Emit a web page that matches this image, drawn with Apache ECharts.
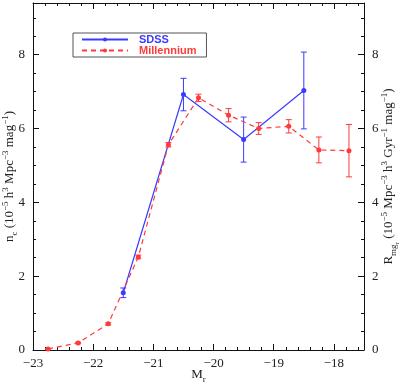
<!DOCTYPE html>
<html><head><meta charset="utf-8">
<script src="https://cdn.jsdelivr.net/npm/echarts@6/dist/echarts.min.js"></script>
<style>html,body{margin:0;padding:0;background:#fff}#c{width:400px;height:383px}</style>
</head><body><div id="c"></div>
<script>
// ---- data ----
const sdssX = [-21.5, -20.5, -19.5, -18.5];
const sdssY = [1.55, 6.92, 5.70, 7.03];
const sdssErr = [0.13, 0.44, 0.61, 1.04];
const milX = [-22.75, -22.25, -21.75, -21.25, -20.75, -20.25, -19.75, -19.25, -18.75, -18.25, -17.75];
const milY = [0.03, 0.19, 0.71, 2.52, 5.56, 6.83, 6.36, 6.00, 6.06, 5.42, 5.40];
const milErr = [0.01, 0.02, 0.03, 0.05, 0.06, 0.10, 0.18, 0.16, 0.18, 0.35, 0.71];
const xTicks = [-23, -22, -21, -20, -19, -18];
const yTicks = [0, 2, 4, 6, 8];

const BLUE = '#3b3bff', RED = '#ff3a3a', AX = '#111';
const FONT = 'Liberation Serif';
const xMin = -23, xMax = -17.5, yMin = 0, yMax = 9.4;

const rich = {
  n: {fontSize: 13, fontFamily: FONT, color: '#222', lineHeight: 18, verticalAlign: 'middle'},
  sup: {fontSize: 9, fontFamily: FONT, color: '#222', lineHeight: 18, verticalAlign: 'top'},
  sub: {fontSize: 9, fontFamily: FONT, color: '#222', lineHeight: 18, verticalAlign: 'bottom'},
  ssub: {fontSize: 7, fontFamily: FONT, color: '#222', lineHeight: 18, verticalAlign: 'bottom', padding: [0, 0, -3, 0]}
};

function xAx(grid, pos, interval, len, labels, line, name) {
  return {
    gridIndex: grid, type: 'value', position: pos, offset: 0, min: xMin, max: xMax, interval: interval,
    axisLine: {show: line, onZero: false, lineStyle: {color: AX, width: 1}},
    axisTick: {show: true, inside: true, length: len, lineStyle: {color: AX, width: 1}},
    axisLabel: {show: labels, showMaxLabel: false, color: '#222', fontFamily: FONT, fontSize: 13, margin: 7,
      formatter: v => xTicks.includes(v) ? String(v).replace('-', '\u2212') : ''},
    splitLine: {show: false},
    name: name || '', nameLocation: 'middle', nameGap: 16, nameMoveOverlap: false,
    nameTextStyle: {rich: rich}
  };
}
function yAx(grid, pos, interval, len, labels, line, name, gap) {
  return {
    gridIndex: grid, type: 'value', position: pos, offset: 0, min: yMin, max: yMax, interval: interval,
    axisLine: {show: line, onZero: false, lineStyle: {color: AX, width: 1}},
    axisTick: {show: true, inside: true, length: len, lineStyle: {color: AX, width: 1}},
    axisLabel: {show: labels, showMaxLabel: false, color: '#222', fontFamily: FONT, fontSize: 13, margin: 8,
      formatter: v => yTicks.includes(v) ? String(v) : ''},
    splitLine: {show: false},
    name: name || '', nameLocation: 'middle', nameGap: gap || 20, nameRotate: 90, nameMoveOverlap: false,
    nameTextStyle: {rich: rich}
  };
}

const leftName = '{n|n}{sub|c}{n| (10}{sup|\u22125}{n| h}{sup|3}{n| Mpc}{sup|\u22123}{n| mag}{sup|\u22121}{n|)}';
const rightName = '{n|R}{sub|mg}{ssub|r}{n| (10}{sup|\u22125}{n| Mpc}{sup|\u22123}{n| h}{sup|3}{n| Gyr}{sup|\u22121}{n| mag}{sup|\u22121}{n|)}';

function errSeries(xs, ys, es, color) {
  return {
    type: 'custom', xAxisIndex: 0, yAxisIndex: 0, silent: true, z: 3,
    data: xs.map((x, i) => [x, ys[i] - es[i], ys[i] + es[i]]),
    renderItem: function (params, api) {
      const lo = api.coord([api.value(0), api.value(1)]);
      const hi = api.coord([api.value(0), api.value(2)]);
      const w = 3;
      const st = {stroke: color, lineWidth: 1, fill: null};
      return {type: 'group', children: [
        {type: 'line', shape: {x1: lo[0], y1: lo[1], x2: hi[0], y2: hi[1]}, style: st},
        {type: 'line', shape: {x1: lo[0] - w, y1: lo[1], x2: lo[0] + w, y2: lo[1]}, style: st},
        {type: 'line', shape: {x1: hi[0] - w, y1: hi[1], x2: hi[0] + w, y2: hi[1]}, style: st}
      ]};
    }
  };
}

const G = {left: 33, right: 36, top: 3, bottom: 33, containLabel: false, outerBoundsMode: 'none'};
const chart = echarts.init(document.getElementById('c'), null, {renderer: 'canvas'});
chart.setOption({
  animation: false,
  backgroundColor: '#fff',
  grid: [Object.assign({}, G), Object.assign({}, G)],
  legend: {
    orient: 'vertical', left: 73, top: 33, itemGap: 0, itemWidth: 46, itemHeight: 5,
    padding: [1, 10, 1, 8], borderColor: '#555', borderWidth: 1, borderRadius: 0,
    backgroundColor: '#fff', selectedMode: false,
    textStyle: {fontFamily: 'Liberation Sans', fontSize: 11, fontWeight: 'bold', padding: [0, 0, 0, 6], lineHeight: 9},
    data: [
      {name: 'SDSS', textStyle: {color: BLUE}},
      {name: 'Millennium', textStyle: {color: RED}}
    ]
  },
  xAxis: [
    xAx(0, 'bottom', 1, 6, true, true, '{n|M}{sub|r}'),
    xAx(0, 'top', 1, 6, false, true),
    xAx(1, 'bottom', 0.2, 3, false, false),
    xAx(1, 'top', 0.2, 3, false, false)
  ],
  yAxis: [
    yAx(0, 'left', 2, 6, true, true, leftName, 14),
    yAx(0, 'right', 2, 6, true, true, rightName, 16),
    yAx(1, 'left', 0.5, 3, false, false),
    yAx(1, 'right', 0.5, 3, false, false)
  ],
  series: [
    {
      name: 'SDSS', type: 'line', xAxisIndex: 0, yAxisIndex: 0, z: 4,
      data: sdssX.map((x, i) => [x, sdssY[i]]),
      symbol: 'circle', symbolSize: 5,
      itemStyle: {color: BLUE}, lineStyle: {color: BLUE, width: 1.2}
    },
    {
      name: 'Millennium', type: 'line', xAxisIndex: 0, yAxisIndex: 0, z: 4,
      data: milX.map((x, i) => [x, milY[i]]),
      symbol: 'circle', symbolSize: 5,
      itemStyle: {color: RED}, lineStyle: {color: RED, width: 1.2, type: [5, 4]}
    },
    errSeries(sdssX, sdssY, sdssErr, BLUE),
    errSeries(milX, milY, milErr, RED)
  ]
});
</script></body></html>
